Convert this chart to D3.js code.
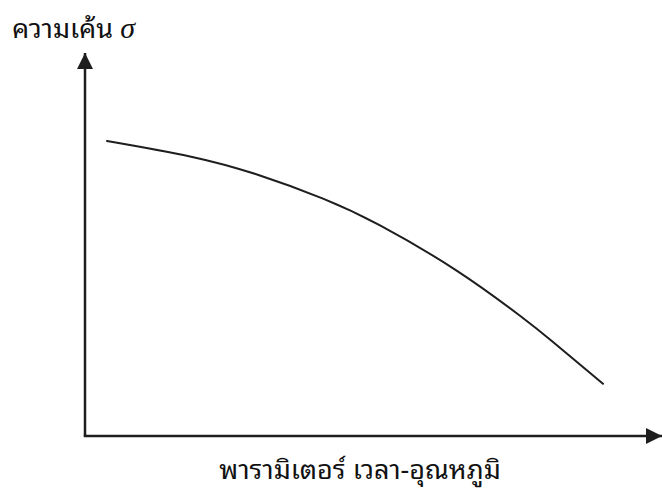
<!DOCTYPE html>
<html>
<head>
<meta charset="utf-8">
<script src="https://cdn.jsdelivr.net/npm/d3@7"></script>
<style>
  html, body { margin: 0; padding: 0; background: #fff; }
  svg { display: block; }
</style>
</head>
<body>
<svg id="chart" width="662" height="490"></svg>
<script>
// Stress vs. time-temperature parameter (schematic curve)
const paramValues  = [0.381, 1.820, 2.981, 4.125, 5.113, 6.447, 7.539, 8.111, 8.977];
const stressValues = [7.702, 7.300, 6.828, 6.198, 5.499, 4.313, 3.138, 2.454, 1.363];
const yLabel = "ความเค้น";
const ySymbol = "σ";
const xLabel = "พารามิเตอร์ เวลา-อุณหภูมิ";

const svg = d3.select("#chart");
const origin = { x: 85, y: 436 };
const x = d3.scaleLinear().domain([0, 10]).range([origin.x, origin.x + 577]);
const y = d3.scaleLinear().domain([0, 10]).range([origin.y, origin.y - 383]);

const ink = "#1e1e1e";
const thaiFont = "'Noto Sans Thai Looped', 'Noto Serif Thai', 'Noto Sans Thai', 'Noto Sans', 'DejaVu Sans', sans-serif";

// axes with arrowheads
const defs = svg.append("defs");
defs.append("marker")
  .attr("id", "arrow")
  .attr("viewBox", "0 0 10 10")
  .attr("refX", 10).attr("refY", 5)
  .attr("markerUnits", "userSpaceOnUse")
  .attr("markerWidth", 16).attr("markerHeight", 16)
  .attr("orient", "auto")
  .append("path")
  .attr("d", "M0,0 L10,5 L0,10 Z")
  .attr("fill", ink);

svg.append("line")
  .attr("x1", x(0)).attr("y1", y(0))
  .attr("x2", x(0)).attr("y2", y(10))
  .attr("stroke", ink).attr("stroke-width", 2.5)
  .attr("marker-end", "url(#arrow)");

svg.append("line")
  .attr("x1", x(0) - 1.25).attr("y1", y(0))
  .attr("x2", x(10)).attr("y2", y(0))
  .attr("stroke", ink).attr("stroke-width", 2.5)
  .attr("marker-end", "url(#arrow)");

// curve
const pts = paramValues.map((v, i) => [v, stressValues[i]]);
const line = d3.line()
  .x(d => x(d[0]))
  .y(d => y(d[1]))
  .curve(d3.curveNatural);

svg.append("path")
  .datum(pts)
  .attr("d", line)
  .attr("fill", "none")
  .attr("stroke", ink)
  .attr("stroke-width", 2)
  .attr("stroke-linecap", "round");

// labels
const yl = svg.append("text")
  .attr("x", 12).attr("y", 38)
  .attr("fill", "#111")
  .style("font-family", thaiFont)
  .style("font-size", "27px");
yl.append("tspan").text(yLabel + " ");
yl.append("tspan")
  .style("font-family", "'Liberation Serif', 'DejaVu Serif', serif")
  .style("font-style", "italic")
  .style("font-size", "30px")
  .text(ySymbol);

svg.append("text")
  .attr("x", 360).attr("y", 479)
  .attr("text-anchor", "middle")
  .attr("fill", "#111")
  .style("font-family", thaiFont)
  .style("font-size", "27px")
  .text(xLabel);
</script>
</body>
</html>
